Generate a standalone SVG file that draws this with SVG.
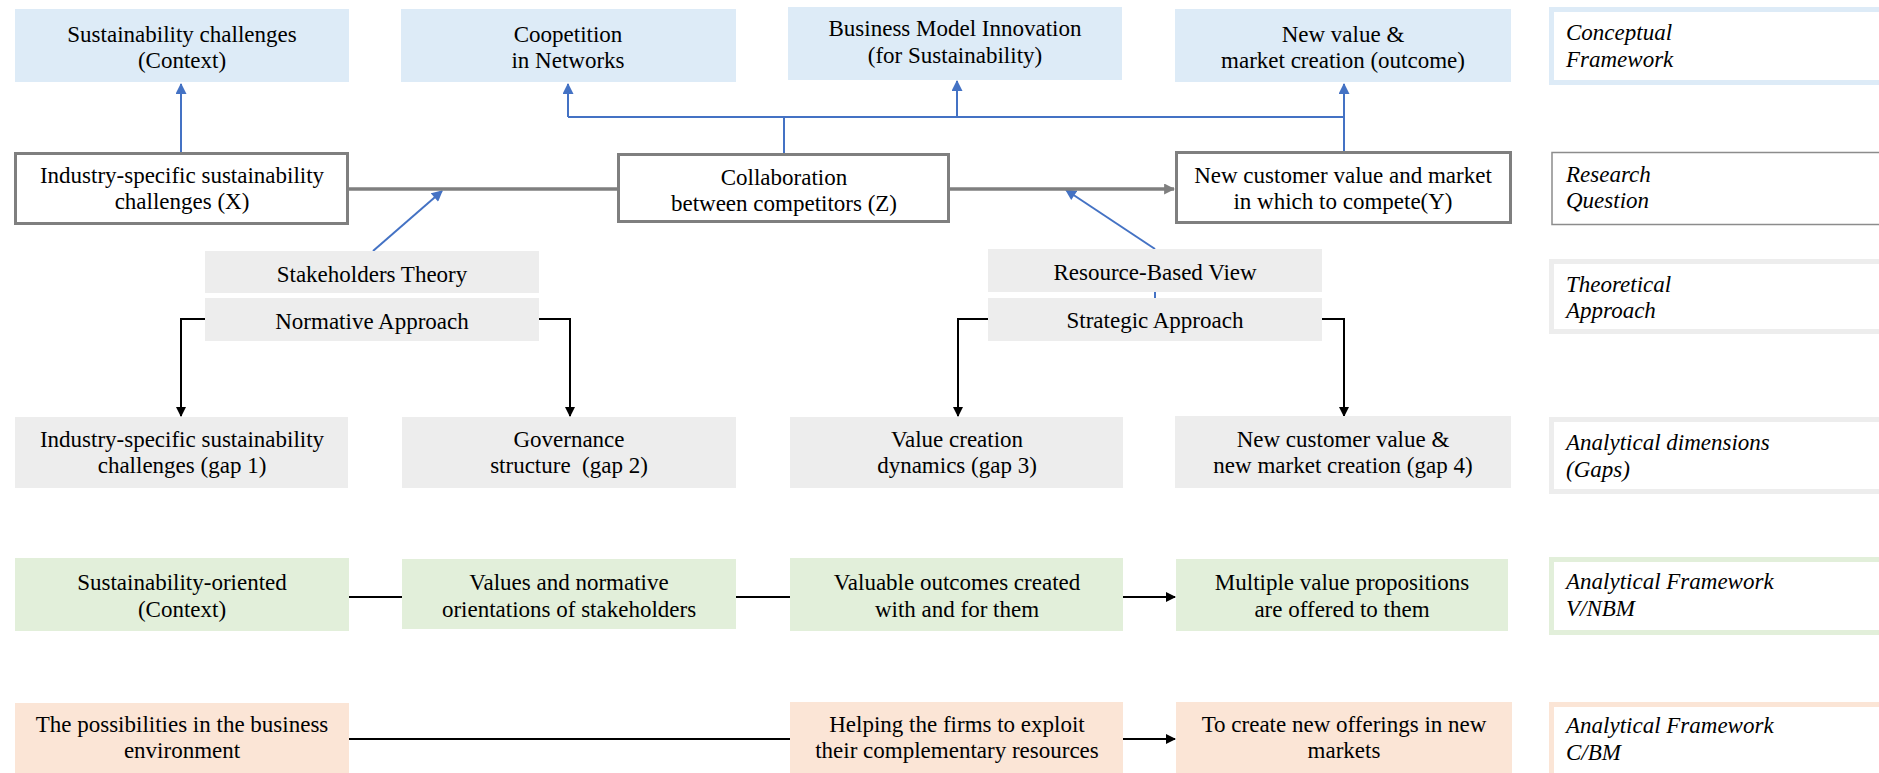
<svg xmlns="http://www.w3.org/2000/svg" width="1879" height="773" viewBox="0 0 1879 773">
<style>
.t{font-family:"Liberation Serif","Times New Roman",serif;font-size:23px;fill:#000;text-anchor:middle}
.l{font-family:"Liberation Serif","Times New Roman",serif;font-size:23px;font-style:italic;fill:#000}
.cb{fill:#DDEBF7}
.gb{fill:#EDEDED}
.nb{fill:#E2EFDA}
.ob{fill:#FBE5D6}
.rq{fill:#fff;stroke:#7F7F7F;stroke-width:3}
.lab{fill:#fff;stroke-width:5}
.bl{fill:none;stroke:#4472C4;stroke-width:2}
.gy{fill:none;stroke:#7F7F7F;stroke-width:3.5}
.bk{fill:none;stroke:#000;stroke-width:2}
</style>
<defs>
<marker id="ab" viewBox="0 0 10 10" refX="9" refY="5" markerWidth="12" markerHeight="11" orient="auto" markerUnits="userSpaceOnUse"><path d="M0,0 L10,5 L0,10 z" fill="#4472C4"/></marker>
<marker id="ag" viewBox="0 0 10 10" refX="9" refY="5" markerWidth="11" markerHeight="11" orient="auto" markerUnits="userSpaceOnUse"><path d="M0,0 L10,5 L0,10 z" fill="#7F7F7F"/></marker>
<marker id="ak" viewBox="0 0 10 10" refX="9" refY="5" markerWidth="10" markerHeight="10" orient="auto" markerUnits="userSpaceOnUse"><path d="M0,0 L10,5 L0,10 z" fill="#000"/></marker>
</defs>

<g id="connectors">
<path class="bl" d="M181,152 V84" marker-end="url(#ab)"/>
<path class="bl" d="M784,154 V117 M568,117 H1344"/>
<path class="bl" d="M568,117 V84" marker-end="url(#ab)"/>
<path class="bl" d="M957,117 V81" marker-end="url(#ab)"/>
<path class="bl" d="M1344,151 V84" marker-end="url(#ab)"/>
<path class="bl" d="M373,251 L442,191" marker-end="url(#ab)"/>
<path class="bl" d="M1155,249 L1066,190" marker-end="url(#ab)"/>
<path class="bl" d="M1155,292 V298"/>
<path class="bl" d="M345,298 V300"/>
<path class="gy" d="M349,189 H617"/>
<path class="gy" d="M950,189 H1174" marker-end="url(#ag)"/>
<path class="bk" d="M205,319 H181 V416" marker-end="url(#ak)"/>
<path class="bk" d="M539,319 H570 V416" marker-end="url(#ak)"/>
<path class="bk" d="M988,319 H958 V416" marker-end="url(#ak)"/>
<path class="bk" d="M1322,319 H1344 V416" marker-end="url(#ak)"/>
<path class="bk" d="M349,597 H402 M736,597 H790"/>
<path class="bk" d="M1123,597 H1175" marker-end="url(#ak)"/>
<path class="bk" d="M349,739 H790"/>
<path class="bk" d="M1123,739 H1175" marker-end="url(#ak)"/>
</g>

<g id="c1"><rect class="cb" x="15" y="9" width="334" height="73"/><text class="t" x="182" y="42">Sustainability challenges</text><text class="t" x="182" y="68">(Context)</text></g>
<g id="c2"><rect class="cb" x="401" y="9" width="335" height="73"/><text class="t" x="568" y="42">Coopetition</text><text class="t" x="568" y="68">in Networks</text></g>
<g id="c3"><rect class="cb" x="788" y="7" width="334" height="73"/><text class="t" x="955" y="36">Business Model Innovation</text><text class="t" x="955" y="63">(for Sustainability)</text></g>
<g id="c4"><rect class="cb" x="1175" y="9" width="336" height="73"/><text class="t" x="1343" y="42">New value &amp;</text><text class="t" x="1343" y="68">market creation (outcome)</text></g>

<g id="rx"><rect class="rq" x="15.5" y="153.5" width="332" height="70"/><text class="t" x="182" y="183">Industry-specific sustainability</text><text class="t" x="182" y="209">challenges (X)</text></g>
<g id="rz"><rect class="rq" x="618.5" y="154.5" width="330" height="67"/><text class="t" x="784" y="185">Collaboration</text><text class="t" x="784" y="211">between competitors (Z)</text></g>
<g id="ry"><rect class="rq" x="1176.5" y="152.5" width="334" height="70"/><text class="t" x="1343" y="183">New customer value and market</text><text class="t" x="1343" y="209">in which to compete(Y)</text></g>

<g id="st"><rect class="gb" x="205" y="251" width="334" height="42"/><text class="t" x="372" y="282">Stakeholders Theory</text></g>
<g id="na"><rect class="gb" x="205" y="298" width="334" height="43"/><text class="t" x="372" y="329">Normative Approach</text></g>
<g id="rbv"><rect class="gb" x="988" y="249" width="334" height="43"/><text class="t" x="1155" y="280">Resource-Based View</text></g>
<g id="sa"><rect class="gb" x="988" y="298" width="334" height="43"/><text class="t" x="1155" y="328">Strategic Approach</text></g>

<g id="g1"><rect class="gb" x="15" y="417" width="333" height="71"/><text class="t" x="182" y="447">Industry-specific sustainability</text><text class="t" x="182" y="473">challenges (gap 1)</text></g>
<g id="g2"><rect class="gb" x="402" y="417" width="334" height="71"/><text class="t" x="569" y="447">Governance</text><text class="t" x="569" y="473">structure&#160; (gap 2)</text></g>
<g id="g3"><rect class="gb" x="790" y="417" width="333" height="71"/><text class="t" x="957" y="447">Value creation</text><text class="t" x="957" y="473">dynamics (gap 3)</text></g>
<g id="g4"><rect class="gb" x="1175" y="416" width="336" height="72"/><text class="t" x="1343" y="447">New customer value &amp;</text><text class="t" x="1343" y="473">new market creation (gap 4)</text></g>

<g id="v1"><rect class="nb" x="15" y="558" width="334" height="73"/><text class="t" x="182" y="590">Sustainability-oriented</text><text class="t" x="182" y="617">(Context)</text></g>
<g id="v2"><rect class="nb" x="402" y="559" width="334" height="70"/><text class="t" x="569" y="590">Values and normative</text><text class="t" x="569" y="617">orientations of stakeholders</text></g>
<g id="v3"><rect class="nb" x="790" y="558" width="333" height="73"/><text class="t" x="957" y="590">Valuable outcomes created</text><text class="t" x="957" y="617">with and for them</text></g>
<g id="v4"><rect class="nb" x="1176" y="559" width="332" height="72"/><text class="t" x="1342" y="590">Multiple value propositions</text><text class="t" x="1342" y="617">are offered to them</text></g>

<g id="o1"><rect class="ob" x="15" y="703" width="334" height="70"/><text class="t" x="182" y="732">The possibilities in the business</text><text class="t" x="182" y="758">environment</text></g>
<g id="o2"><rect class="ob" x="790" y="702" width="333" height="71"/><text class="t" x="957" y="732">Helping the firms to exploit</text><text class="t" x="957" y="758">their complementary resources</text></g>
<g id="o3"><rect class="ob" x="1176" y="702" width="336" height="71"/><text class="t" x="1344" y="732">To create new offerings in new</text><text class="t" x="1344" y="758">markets</text></g>

<g id="L1"><rect class="lab" x="1551.5" y="9.5" width="400" height="73" stroke="#DDEBF7"/><text class="l" x="1566" y="40">Conceptual</text><text class="l" x="1566" y="67">Framework</text></g>
<g id="L2"><rect x="1552" y="152.5" width="400" height="72" fill="#fff" stroke="#8C8C8C" stroke-width="1.5"/><text class="l" x="1566" y="182">Research</text><text class="l" x="1566" y="208">Question</text></g>
<g id="L3"><rect class="lab" x="1551.5" y="261.5" width="400" height="70" stroke="#EDEDED"/><text class="l" x="1566" y="292">Theoretical</text><text class="l" x="1566" y="318">Approach</text></g>
<g id="L4"><rect class="lab" x="1551.5" y="419.5" width="400" height="72" stroke="#EDEDED"/><text class="l" x="1566" y="450">Analytical dimensions</text><text class="l" x="1566" y="477">(Gaps)</text></g>
<g id="L5"><rect class="lab" x="1551.5" y="559.5" width="400" height="73" stroke="#E2EFDA"/><text class="l" x="1566" y="589">Analytical Framework</text><text class="l" x="1566" y="616">V/NBM</text></g>
<g id="L6"><rect class="lab" x="1551.5" y="704.5" width="400" height="100" stroke="#FBE5D6"/><text class="l" x="1566" y="733">Analytical Framework</text><text class="l" x="1566" y="760">C/BM</text></g>
</svg>
